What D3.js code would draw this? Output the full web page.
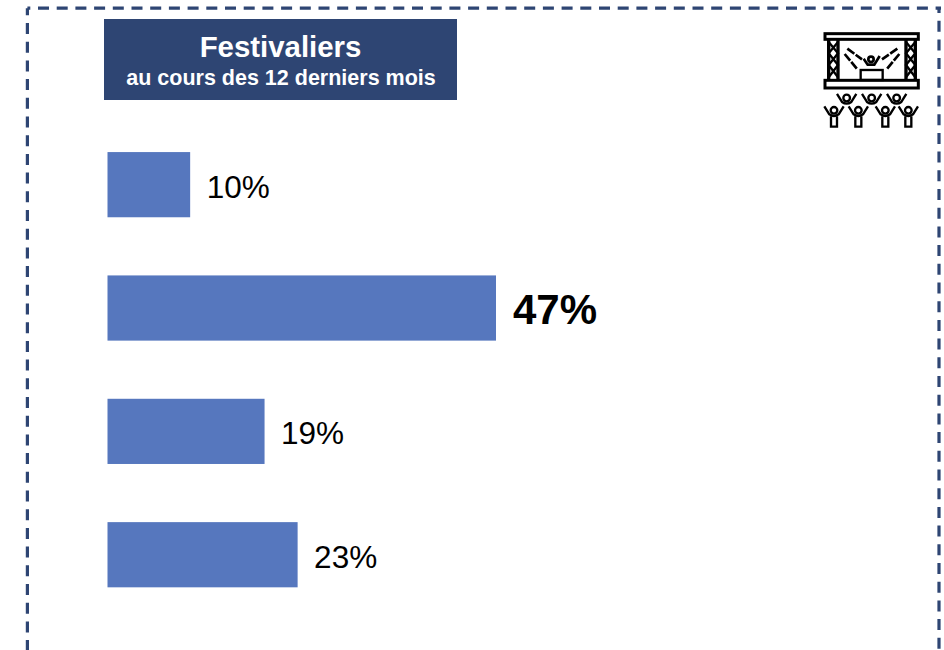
<!DOCTYPE html>
<html><head><meta charset="utf-8">
<style>html,body{margin:0;padding:0;background:#fff;overflow:hidden}svg{display:block}text{font-family:"Liberation Sans",Arial,sans-serif}</style>
<script src="https://cdn.jsdelivr.net/npm/d3@7/dist/d3.min.js"></script>
</head><body>
<svg id="c" width="944" height="650"></svg>
<script>
const categories = ["a","b","c","d"];
const values = [10,47,19,23];
const emphasised = [false,true,false,false];
const titleText = "Festivaliers";
const subtitleText = "au cours des 12 derniers mois";

const svg = d3.select("#c");
const navy = "#2E4573", blue = "#5677BE";

// dashed frame
const frame = svg.append("g").attr("fill","none").attr("stroke",navy).attr("stroke-width",3.2).attr("stroke-dasharray","11 7.7");
frame.append("line").attr("x1",27.4).attr("x2",27.4).attr("y1",8.2).attr("y2",660).attr("stroke-dashoffset",3.9);
frame.append("line").attr("x1",27.4).attr("x2",941).attr("y1",8.2).attr("y2",8.2).attr("stroke-dashoffset",8.1);
frame.append("line").attr("x1",939).attr("x2",939).attr("y1",8.2).attr("y2",660).attr("stroke-dashoffset",6.2);

// header
svg.append("rect").attr("x",104).attr("y",19).attr("width",353).attr("height",81).attr("fill",navy);
svg.append("text").attr("x",280.5).attr("y",57).attr("text-anchor","middle").attr("font-size",29.4).attr("font-weight",700).attr("fill","#fff").text(titleText);
svg.append("text").attr("x",281).attr("y",85).attr("text-anchor","middle").attr("font-size",21.5).attr("font-weight",700).attr("fill","#fff").text(subtitleText);

// bars
const x = d3.scaleLinear().domain([0,47]).range([107.5,496]);
const y = d3.scaleBand().domain(categories).range([123,616.4]).paddingInner(0.4715).paddingOuter(0.2357);
const rows = categories.map((c,i)=>({c,v:values[i],e:emphasised[i]}));
svg.append("g").selectAll("rect").data(rows).join("rect")
  .attr("x",x(0)).attr("y",d=>y(d.c)).attr("width",d=>x(d.v)-x(0)).attr("height",y.bandwidth()).attr("fill",blue);
svg.append("g").selectAll("text").data(rows).join("text")
  .attr("x",d=>x(d.v)+(d.e?17:16.5))
  .attr("y",d=>y(d.c)+y.bandwidth()/2+(d.e?16:13))
  .attr("font-size",d=>d.e?42:31.5).attr("font-weight",d=>d.e?700:400).attr("fill","#000")
  .text(d=>d.v+"%");

// icon
const ic = svg.append("g").attr("transform","translate(810,20) scale(0.3333)").attr("fill","none").attr("stroke","#000").attr("stroke-width",9);
ic.append("rect").attr("x",45).attr("y",41).attr("width",280).attr("height",17);
ic.append("rect").attr("x",45).attr("y",181).attr("width",280).attr("height",23);
[[56,84],[288,316]].forEach(([a,b])=>{
  ic.append("path").attr("d",`M${a},58V180M${b},58V180`).attr("stroke-width",10);
  ic.append("path").attr("d",`M${a},66L${b},100L${a},135L${b},172M${b},66L${a},100L${b},135L${a},172`).attr("stroke-width",7);
});
ic.append("rect").attr("x",152).attr("y",150).attr("width",66).attr("height",30).attr("stroke-width",7);
ic.append("path").attr("d","M112,86L156,118M104,102L142,148M262,86L216,118M268,102L230,148").attr("stroke-dasharray","26 5").attr("stroke-width",8);
function person(cx,cy,body){
  const p = ic.append("g").attr("transform",`translate(${cx},${cy})`).attr("stroke-width",7);
  p.append("circle").attr("r",10);
  p.append("path").attr("d","M-29,-12L-14,12Q0,22 14,12L29,-12");
  if(body) p.append("path").attr("d","M-9,18V49H9V18");
}
[[110,234],[185,234],[260,234]].forEach(d=>person(d[0],d[1],false));
[[72,271],[145,271],[226,271],[295,271]].forEach(d=>person(d[0],d[1],true));
// central performer
const perf = ic.append("g").attr("transform","translate(183,118)").attr("stroke-width",8);
perf.append("circle").attr("r",8);
perf.append("path").attr("d","M-22,-2L-10,16H10L26,-10");
</script>
</body></html>
